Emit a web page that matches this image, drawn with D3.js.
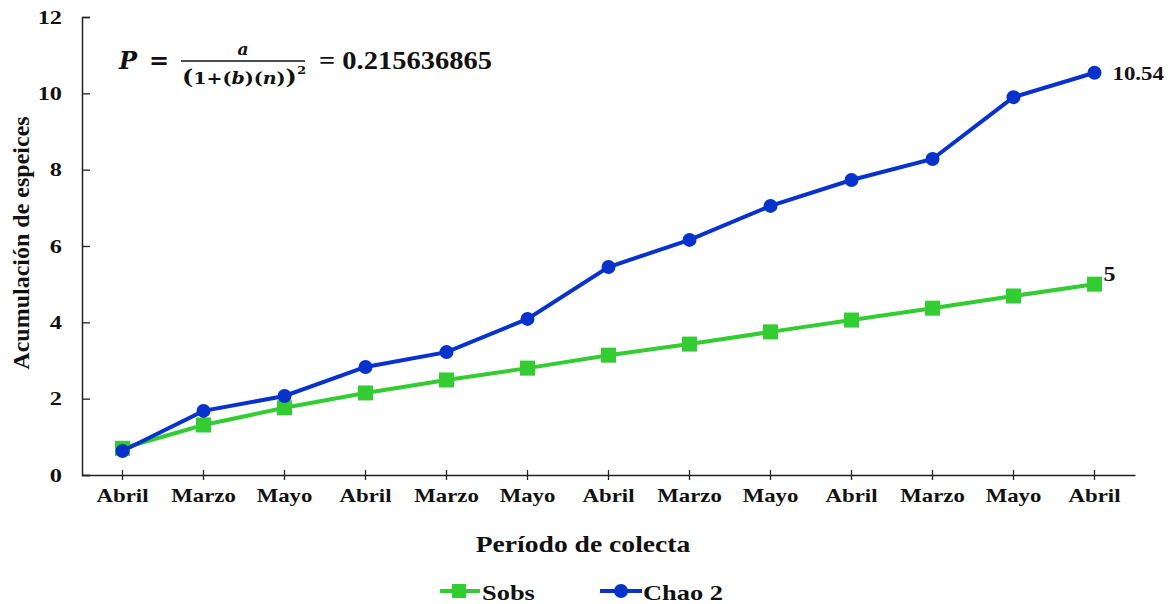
<!DOCTYPE html>
<html>
<head>
<meta charset="utf-8">
<script src="https://cdn.jsdelivr.net/npm/d3@7"></script>
<style>
  html, body { margin: 0; padding: 0; background: #fff; }
  svg { display: block; }
  svg text { font-family: "Liberation Serif", "Times New Roman", Tinos, serif; font-weight: bold; fill: #111; }
  svg text.math { font-family: "DejaVu Serif", serif; }
</style>
</head>
<body>
<svg id="chart" width="1176" height="604"></svg>
<script>
// Sampling periods along the x axis
const periods = ["Abril", "Marzo", "Mayo", "Abril", "Marzo", "Mayo", "Abril",
                 "Marzo", "Mayo", "Abril", "Marzo", "Mayo", "Abril"];
// Observed species accumulation
const sobs = [0.70, 1.31, 1.76, 2.15, 2.49, 2.80, 3.14, 3.43, 3.75, 4.06, 4.37, 4.69, 5];
// Chao 2 estimator
const chao2 = [0.63, 1.68, 2.07, 2.83, 3.22, 4.09, 5.45, 6.16, 7.05, 7.73, 8.28, 9.90, 10.54];
const yTicks = [0, 2, 4, 6, 8, 10, 12];

const svg = d3.select("#chart");
const m = { left: 82, right: 1135, top: 17, bottom: 475 };
const WIDE = 1.2; // horizontal widening applied to the label text

// Widen text horizontally while keeping its anchor
function widen(sel, k) {
  sel.each(function () {
    const w = this.getComputedTextLength();
    d3.select(this).attr("textLength", w * k).attr("lengthAdjust", "spacingAndGlyphs");
  });
}

const x = d3.scaleBand().domain(d3.range(periods.length)).range([m.left, m.right]);
const cx = i => x(i) + x.bandwidth() / 2;
const y = d3.scaleLinear().domain([0, 12]).range([m.bottom, m.top]);

// Y axis (ticks pointing inward)
const yAxis = svg.append("g").attr("transform", `translate(${m.left},0)`)
  .call(d3.axisLeft(y).tickValues(yTicks).tickSize(-8).tickPadding(20));
yAxis.select(".domain").attr("stroke", "#222").attr("stroke-width", 1.5);
yAxis.selectAll(".tick line").attr("stroke", "#222").attr("stroke-width", 1.3);
yAxis.selectAll("text").attr("font-size", 19).attr("font-family", null);
widen(yAxis.selectAll("text"), 1.28);

// X axis (ticks crossing the axis line)
const xAxis = svg.append("g").attr("transform", `translate(0,${m.bottom})`)
  .call(d3.axisBottom(x).tickFormat(i => periods[i]).tickSize(5).tickSizeOuter(0).tickPadding(9));
xAxis.select(".domain").attr("stroke", "#222").attr("stroke-width", 1.5);
xAxis.selectAll(".tick line").attr("stroke", "#222").attr("stroke-width", 1.3).attr("y1", -5);
xAxis.selectAll("text").attr("font-size", 19).attr("font-family", null);
widen(xAxis.selectAll("text"), WIDE);

// Axis titles
const xTitle = svg.append("text").attr("x", 583).attr("y", 552).attr("text-anchor", "middle")
  .attr("font-size", 23).text("Período de colecta");
widen(xTitle, WIDE);
svg.append("text").attr("transform", "translate(29,243) rotate(-90)").attr("text-anchor", "middle")
  .attr("font-size", 24).text("Acumulación de espeices");

const green = "#33cc33", blue = "#0733cc";
const line = d3.line().x((d, i) => cx(i)).y(d => y(d));

// Sobs series
svg.append("path").datum(sobs).attr("d", line).attr("fill", "none")
  .attr("stroke", green).attr("stroke-width", 4);
svg.selectAll(".sq").data(sobs).enter().append("rect")
  .attr("x", (d, i) => cx(i) - 7.5).attr("y", d => y(d) - 7.5)
  .attr("width", 15).attr("height", 15).attr("fill", green);

// Chao 2 series
svg.append("path").datum(chao2).attr("d", line).attr("fill", "none")
  .attr("stroke", blue).attr("stroke-width", 4);
svg.selectAll(".dot").data(chao2).enter().append("circle")
  .attr("cx", (d, i) => cx(i)).attr("cy", d => y(d)).attr("r", 7).attr("fill", blue);

// End value labels
const last = periods.length - 1;
const endLabels = svg.append("g");
endLabels.append("text").attr("x", cx(last) + 18).attr("y", y(chao2[last]) + 7)
  .attr("font-size", 19).text(chao2[last]);
endLabels.append("text").attr("x", cx(last) + 9).attr("y", y(sobs[last]) - 3)
  .attr("font-size", 20).text(sobs[last]);
widen(endLabels.selectAll("text"), WIDE);

// Formula
const f = svg.append("g");
f.append("text").attr("class", "math").attr("x", 119).attr("y", 69).attr("font-size", 24)
  .attr("font-style", "italic").text("P");
f.append("text").attr("class", "math").attr("x", 149).attr("y", 69).attr("font-size", 24).text("=");
f.append("text").attr("class", "math").attr("x", 243).attr("y", 55).attr("text-anchor", "middle")
  .attr("font-size", 17).attr("font-style", "italic").text("a");
f.append("line").attr("x1", 181).attr("x2", 305).attr("y1", 61).attr("y2", 61)
  .attr("stroke", "#111").attr("stroke-width", 1.3);
const den = f.append("text").attr("class", "math").attr("x", 182).attr("y", 84)
  .attr("font-size", 16).attr("textLength", 124).attr("lengthAdjust", "spacingAndGlyphs");
den.append("tspan").attr("font-size", 20).text("(");
den.append("tspan").text("1+(");
den.append("tspan").attr("font-style", "italic").text("b");
den.append("tspan").text(")(");
den.append("tspan").attr("font-style", "italic").text("n");
den.append("tspan").text(")");
den.append("tspan").attr("font-size", 20).text(")");
den.append("tspan").attr("font-size", 11).attr("dy", -10).text("2");
f.append("text").attr("x", 319).attr("y", 69).attr("font-size", 25)
  .attr("textLength", 173).attr("lengthAdjust", "spacingAndGlyphs").text("= 0.215636865");

// Legend
const lg = svg.append("g");
lg.append("line").attr("x1", 440).attr("x2", 480).attr("y1", 591).attr("y2", 591)
  .attr("stroke", green).attr("stroke-width", 4);
lg.append("rect").attr("x", 452).attr("y", 584).attr("width", 14).attr("height", 14).attr("fill", green);
lg.append("text").attr("x", 482).attr("y", 600).attr("font-size", 22).text("Sobs");
lg.append("line").attr("x1", 600).attr("x2", 642).attr("y1", 591).attr("y2", 591)
  .attr("stroke", blue).attr("stroke-width", 4);
lg.append("circle").attr("cx", 621).attr("cy", 591).attr("r", 7).attr("fill", blue);
lg.append("text").attr("x", 643).attr("y", 600).attr("font-size", 22).text("Chao 2");
widen(lg.selectAll("text"), WIDE);
</script>
</body>
</html>
